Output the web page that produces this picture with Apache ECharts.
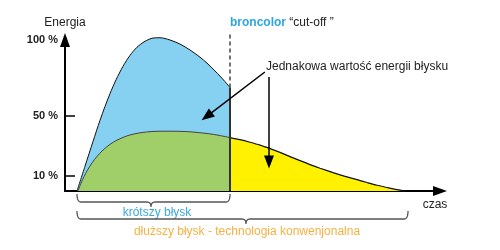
<!DOCTYPE html>
<html><head><meta charset="utf-8">
<script src="https://cdn.jsdelivr.net/npm/echarts@6/dist/echarts.min.js"></script>
<style>html,body{margin:0;padding:0;background:#fff}#c{width:500px;height:250px}</style>
</head><body><div id="c"></div>
<script>
// Short flash (broncolor, cut off)
const shortTime   = [3.2, 5.33, 7.47, 9.33, 10.67, 12.0, 13.6, 15.47, 17.33, 19.2, 21.33, 23.47, 25.33, 28.0, 30.67, 33.33, 36.0, 37.87, 40.0, 41.33, 42.67, 44.0];
const shortEnergy = [0, 16.4, 32.8, 46.8, 56.0, 64.5, 73.6, 82.6, 89.8, 95.2, 99.1, 101.3, 101.5, 100.0, 97.3, 93.4, 88.6, 84.7, 79.5, 76.1, 72.4, 68.6];
// Longer conventional flash, part before cut-off
const longTime    = [3.47, 4.27, 5.07, 5.87, 7.2, 8.53, 10.13, 12.0, 13.87, 16.53, 18.67, 20.8, 22.67, 25.33, 28.0, 30.67, 33.33, 36.0, 38.67, 40.53, 42.4, 44.0];
const longEnergy  = [0, 5.2, 9.5, 13.3, 18.6, 22.9, 27.1, 30.9, 33.7, 36.5, 37.9, 38.8, 39.3, 39.6, 39.6, 39.5, 39.2, 38.6, 37.8, 37.1, 36.2, 35.4];
// Longer flash, tail after cut-off
const tailTime    = [44.0, 46.67, 49.33, 52.0, 54.67, 57.33, 60.0, 62.67, 65.33, 68.0, 71.47, 74.67, 77.87, 80.53, 83.2, 85.87, 88.53, 90.67];
const tailEnergy  = [35.4, 34.0, 32.3, 30.4, 28.1, 25.6, 22.8, 20.1, 17.5, 15.1, 12.2, 9.7, 7.5, 5.6, 3.8, 2.3, 0.9, 0];
const cutoffTime = 44.0;
const cutoffTop = 104.6;
const yLabelValues = [10, 50, 100];
const yTickValues = [10, 50];

const FONT = '"Liberation Sans", Arial, Helvetica, sans-serif';
const zip = (a, b) => a.map((v, i) => [v, b[i]]);

function brace(x1, x2, cx, yTop, yMid, yTip, r) {
  const pts = [];
  const quad = (p0, p1, p2) => {
    for (let i = 0; i <= 8; i++) {
      const t = i / 8, u = 1 - t;
      pts.push([u*u*p0[0] + 2*u*t*p1[0] + t*t*p2[0], u*u*p0[1] + 2*u*t*p1[1] + t*t*p2[1]]);
    }
  };
  quad([x1, yTop], [x1, yMid], [x1 + r, yMid]);
  quad([cx - r, yMid], [cx, yMid], [cx, yTip]);
  quad([cx, yTip], [cx, yMid], [cx + r, yMid]);
  quad([x2 - r, yMid], [x2, yMid], [x2, yTop]);
  return pts;
}

const chart = echarts.init(document.getElementById('c'), null, {renderer: 'canvas'});
const axisLineStyle = {show: true, symbol: ['none', 'triangle'], symbolSize: [10, 14], lineStyle: {color: '#000', width: 2}};
chart.setOption({
  animation: false,
  grid: {left: 65, right: 60, top: 40, bottom: 59},
  xAxis: {type: 'value', min: 0, max: 100, axisLine: axisLineStyle, axisTick: {show: false}, axisLabel: {show: false}, splitLine: {show: false}},
  yAxis: {type: 'value', min: 0, max: 100, axisLine: axisLineStyle,
    axisTick: {show: true, inside: true, length: 10, customValues: yTickValues, lineStyle: {color: '#000', width: 1.5}},
    axisLabel: {customValues: yLabelValues, formatter: '{value} %', fontWeight: 'bold', fontSize: 11, color: '#222', margin: 7, fontFamily: FONT},
    splitLine: {show: false}},
  series: [
    {type: 'line', data: zip(shortTime, shortEnergy), smooth: 0.3, symbol: 'none', clip: false,
      lineStyle: {color: '#111', width: 1}, areaStyle: {color: '#86D0F1', opacity: 1}, z: 2},
    {type: 'line', data: zip(longTime, longEnergy), smooth: 0.3, symbol: 'none', clip: false,
      lineStyle: {color: '#444', width: 1}, areaStyle: {color: '#A0CF6A', opacity: 1}, z: 3},
    {type: 'line', data: zip(tailTime, tailEnergy), smooth: 0.3, symbol: 'none', clip: false,
      lineStyle: {color: '#111', width: 1.2}, areaStyle: {color: '#FFF100', opacity: 1}, z: 3},
    {type: 'line', data: [[cutoffTime, 0], [cutoffTime, shortEnergy[shortEnergy.length - 1]]], symbol: 'none', clip: false,
      lineStyle: {color: '#333', width: 2}, z: 4},
    {type: 'line', data: [[cutoffTime, shortEnergy[shortEnergy.length - 1]], [cutoffTime, cutoffTop]], symbol: 'none', clip: false,
      lineStyle: {color: '#444', width: 1.5, type: [4, 3]}, z: 4,
      markLine: {silent: true, symbol: ['none', 'triangle'], symbolSize: [10, 13], label: {show: false},
        lineStyle: {color: '#000', width: 1.5, type: 'solid'},
        data: [
          [{coord: [53.3, 78.8]}, {coord: [37.8, 49.4]}],
          [{coord: [54.4, 75.5]}, {coord: [54.4, 19.2]}]
        ]}}
  ],
  graphic: [
    {type: 'text', x: 65, y: 23, style: {text: 'Energia', font: '12px ' + FONT, fill: '#222', align: 'center', verticalAlign: 'middle'}},
    {type: 'text', x: 230, y: 23, style: {text: '{b|broncolor} “cut-off ”', font: '12px ' + FONT, fill: '#222', align: 'left', verticalAlign: 'middle',
      rich: {b: {fontWeight: 'bold', fill: '#2EA7E0', fontSize: 12, fontFamily: FONT}}}},
    {type: 'text', x: 266, y: 67, style: {text: 'Jednakowa wartość energii błysku', font: '12px ' + FONT, fill: '#222', align: 'left', verticalAlign: 'middle'}},
    {type: 'text', x: 435, y: 205, style: {text: 'czas', font: '12px ' + FONT, fill: '#222', align: 'center', verticalAlign: 'middle'}},
    {type: 'polyline', shape: {points: brace(77, 230, 151, 194, 202, 207, 4)}, style: {stroke: '#555', lineWidth: 1.3, fill: null}},
    {type: 'text', x: 157, y: 213, style: {text: 'krótszy błysk', font: '12px ' + FONT, fill: '#3AA8E0', align: 'center', verticalAlign: 'middle'}},
    {type: 'polyline', shape: {points: brace(77, 408, 246, 211, 219, 224, 4)}, style: {stroke: '#555', lineWidth: 1.3, fill: null}},
    {type: 'text', x: 247, y: 232, style: {text: 'dłuższy błysk - technologia konwenjonalna', font: '12px ' + FONT, fill: '#F8B040', align: 'center', verticalAlign: 'middle'}}
  ]
});
</script></body></html>
